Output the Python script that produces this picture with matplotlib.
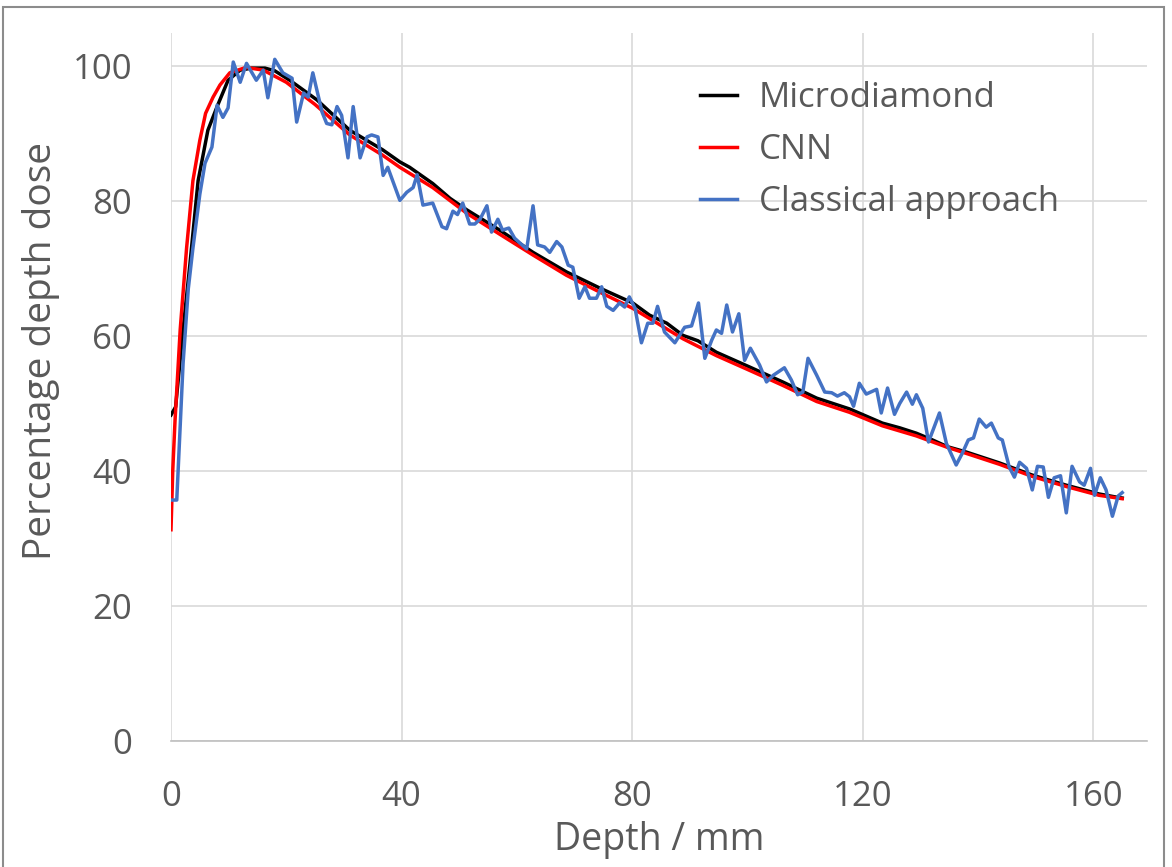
import matplotlib.pyplot as plt
from matplotlib.patches import Rectangle

# Microdiamond (reference measurement)
micro_x = [0, 0.8, 2.1, 3.3, 4.7, 6.4, 8, 9.9, 12, 14, 16.3, 18, 20.6, 25.3, 31, 36.7, 39.7,
           41.4, 45.4, 48.4, 51.3, 57, 62.8, 68.6, 74.4, 80.1, 83, 86, 88.8, 91.4, 94.6,
           100.4, 106.1, 112, 117.7, 123.4, 126.4, 129.3, 132.1, 134.7, 138, 143.7, 149.4,
           155.3, 161, 164.2, 165]
micro_y = [48.3, 49.5, 61, 70.8, 83, 90.5, 94, 97.9, 99.4, 99.7, 99.7, 99.3, 97.9, 95, 90.5,
           87.6, 85.8, 85, 82.6, 80.4, 78.7, 75.7, 72.4, 69.5, 67.1, 64.9, 63.1, 61.9, 60.1,
           59.3, 57.6, 55.4, 53.2, 50.8, 49.2, 47.1, 46.4, 45.6, 44.6, 43.6, 42.8, 41.2, 39.4,
           37.9, 36.6, 36.1, 36.0]

# CNN prediction
cnn_x = [0, 0.3, 0.7, 1.6, 2.7, 3.8, 5, 6, 7.3, 8.5, 10.2, 13, 16, 20, 25, 31, 36.7, 39.7,
         45.4, 51.3, 57, 62.8, 68.6, 74.4, 80.1, 83, 88.8, 94.6, 100.4, 106.1, 112, 117.7,
         123.4, 129.3, 134.7, 138, 143.7, 149.4, 155.3, 161, 164.2, 165]
cnn_y = [31.3, 40, 47.5, 61, 73, 83, 89, 93, 95.4, 97.2, 99, 99.8, 99.4, 97.6, 94.3, 89.8,
         86.8, 85, 82, 78.2, 75.1, 72, 69, 66.5, 64.1, 62.6, 59.6, 57.1, 54.9, 52.7, 50.3,
         48.7, 46.7, 45.2, 43.5, 42.6, 41.0, 39.2, 37.7, 36.4, 36.0, 35.9]

# Classical approach
class_x = [0, 1, 2.1, 3, 3.8, 5, 5.9, 7.1, 8, 9, 9.9, 10.8, 12, 13.1, 14.8, 16, 16.8, 18,
           19.4, 21, 21.8, 23, 23.8, 24.6, 26.2, 27, 27.9, 28.8, 29.6, 30.7, 31.6, 32.8, 34,
           34.8, 35.9, 36.8, 37.6, 39.7, 40.9, 42, 42.7, 43.7, 45.4, 47, 47.8, 48.9, 49.7,
           50.6, 51.8, 52.7, 53.6, 54.8, 55.6, 56.7, 57.5, 58.6, 59.6, 60.5, 61.7, 62.8,
           63.6, 64.8, 65.7, 66.9, 67.8, 68.9, 69.7, 70.8, 71.8, 72.6, 73.8, 74.7, 75.6,
           76.7, 77.8, 78.7, 79.5, 80.5, 81.6, 82.7, 83.6, 84.4, 85.6, 87.4, 89.1, 90.3,
           91.5, 92.6, 93.8, 94.6, 95.5, 96.4, 97.4, 98.5, 99.5, 100.5, 102.1, 103.3, 104.5,
           106.4, 107.6, 108.7, 109.6, 110.5, 112, 113.4, 114.6, 115.6, 116.8, 117.7, 118.4,
           119.4, 120.6, 122.4, 123.2, 124.3, 125.5, 126.4, 127.6, 128.6, 129.3, 130.4,
           131.4, 133.3, 134.5, 136.2, 137.3, 138.3, 139.2, 140.2, 141.4, 142.3, 143.5,
           144.2, 145.4, 146.3, 147.2, 148.4, 149.4, 150.3, 151.3, 152.2, 153.2, 154.3,
           155.3, 156.3, 157.6, 158.4, 159.5, 160.2, 161.2, 162.2, 163.3, 164.3, 165]
class_y = [35.7, 35.7, 56, 67, 73, 81, 85.6, 88, 94.2, 92.4, 93.8, 100.6, 97.6, 100.4, 97.9,
           99.4, 95.3, 101, 99, 98.2, 91.7, 96, 95.4, 99, 93.2, 91.5, 91.3, 94, 92.7, 86.4,
           94, 86.4, 89.5, 89.8, 89.5, 83.8, 85, 80.1, 81.3, 82, 83.9, 79.4, 79.7, 76.2,
           75.9, 78.5, 78, 79.7, 76.6, 76.6, 77.3, 79.3, 75.4, 77.3, 75.7, 76, 74.5, 73.8,
           72.9, 79.3, 73.5, 73.2, 72.4, 74, 73.2, 70.5, 70.2, 65.6, 67.3, 65.6, 65.6, 67.3,
           64.4, 63.8, 64.9, 64.3, 65.8, 64.1, 59, 61.9, 61.9, 64.4, 60.6, 59, 61.3, 61.5,
           64.9, 56.7, 59.4, 60.9, 60.4, 64.6, 60.6, 63.3, 56.4, 58.2, 55.7, 53.2, 54.2, 55.3,
           53.5, 51.3, 51.7, 56.7, 54.2, 51.7, 51.6, 51.1, 51.6, 51, 49.6, 53, 51.4, 52.1,
           48.6, 52.3, 48.4, 50, 51.7, 49.9, 51.3, 49.3, 44.3, 48.6, 44.1, 40.9, 42.7, 44.6,
           44.9, 47.7, 46.5, 47.1, 44.9, 44.6, 40.6, 39.1, 41.3, 40.4, 37.2, 40.7, 40.6,
           36.1, 39, 39.3, 33.8, 40.7, 38.4, 37.9, 40.4, 36.4, 39, 37.2, 33.3, 36.3, 36.8]

labels = ['Microdiamond', 'CNN', 'Classical approach']
colors = ['#000000', '#ff0000', '#4472c4']
x_ticks = [0, 40, 80, 120, 160]
y_ticks = [0, 20, 40, 60, 80, 100]

plt.rcParams['font.family'] = ['Open Sans', 'DejaVu Sans']
txt = '#595959'

fig = plt.figure(figsize=(11.72, 8.67), dpi=100)
ax = fig.add_axes([171 / 1172, 1 - 741 / 867, 976 / 1172, 708 / 867])

ax.plot(micro_x, micro_y, color=colors[0], lw=2.5, label=labels[0])
ax.plot(cnn_x, cnn_y, color=colors[1], lw=2.5, label=labels[1])
ax.plot(class_x, class_y, color=colors[2], lw=2.5, label=labels[2])

ax.set_xlim(0, 169.3)
ax.set_ylim(0, 104.9)
ax.set_xticks(x_ticks)
ax.set_yticks(y_ticks)
ax.grid(True, color='#d9d9d9', lw=1.2)
ax.set_axisbelow(True)
for s in ['top', 'right', 'left']:
    ax.spines[s].set_visible(False)
ax.spines['bottom'].set_color('#bfbfbf')
ax.spines['bottom'].set_linewidth(1.2)
ax.tick_params(length=0, labelsize=25, colors=txt)
ax.tick_params(axis='y', pad=28)
ax.tick_params(axis='x', pad=28)

ax.set_xlabel('Depth / mm', fontsize=27, color=txt)
ax.set_ylabel('Percentage depth dose', fontsize=28, color=txt)
ax.xaxis.set_label_coords(0.5, -0.113)
ax.yaxis.set_label_coords(-0.114, 0.551)

fig.legend(*ax.get_legend_handles_labels(), loc='upper left',
           bbox_to_anchor=(700 / 1172, 1 - 81 / 867), frameon=False, fontsize=25,
           labelcolor=txt, handlelength=1.07, handletextpad=0.62, labelspacing=0.52,
           borderpad=0, borderaxespad=0)

# outer chart frame
fig.add_artist(Rectangle((3 / 1172, -0.05), 1161 / 1172, 1.05 - 7 / 867,
                         transform=fig.transFigure, fill=False, ec='#8c8c8c', lw=1.5))

fig.savefig('out.png', dpi=100)
